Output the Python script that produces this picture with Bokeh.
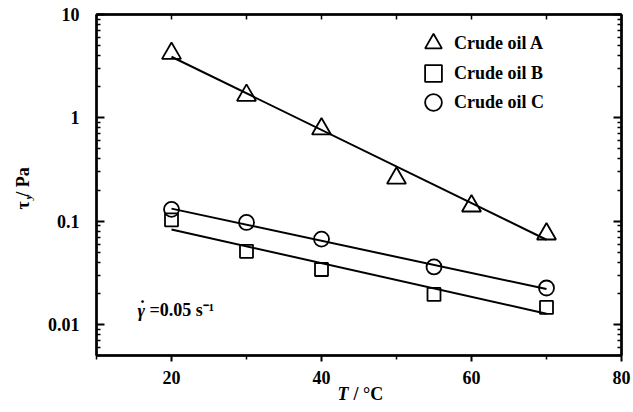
import math
from bokeh.plotting import figure
from bokeh.models import (Range1d, FixedTicker, CustomJSTickFormatter, LinearAxis,
                          LogAxis, Legend, LegendItem, Label)
from bokeh.embed import file_html
from bokeh.resources import INLINE

# ---- data ----
temp_A = [20, 30, 40, 50, 60, 70]
tau_A = [4.2, 1.65, 0.78, 0.26, 0.14, 0.075]
temp_B = [20, 30, 40, 55, 70]
tau_B = [0.103, 0.051, 0.034, 0.0195, 0.0146]
temp_C = [20, 30, 40, 55, 70]
tau_C = [0.13, 0.097, 0.067, 0.036, 0.0225]
fit_T = [20, 70]
fit_A = [3.9, 0.066]
fit_B = [0.083, 0.0127]
fit_C = [0.132, 0.022]
x_ticks = [20, 40, 60, 80]
x_minor = [10, 30, 50, 70]
top_ticks = [20, 30, 40, 50, 60, 70]
y_ticks = [0.01, 0.1, 1, 10]
y_minor = [m * d for d in [0.001, 0.01, 0.1, 1] for m in range(2, 10)]
series_names = ["Crude oil A", "Crude oil B", "Crude oil C"]

X0, X1 = 10, 80
Y0, Y1 = 0.005, 10
W, H = 633, 412
L, R, T, B = 96, 621, 14, 355

FONT = "Liberation Serif"

p = figure(width=W, height=H, x_range=Range1d(X0, X1), y_range=Range1d(Y0, Y1),
           y_axis_type="log", output_backend="svg", toolbar_location=None,
           min_border_left=L, min_border_right=W - R, min_border_top=T,
           min_border_bottom=H - B, background_fill_color="white",
           border_fill_color="white", outline_line_color="black",
           outline_line_width=2)
p.grid.visible = False

# bottom axis
xa = p.xaxis[0]
xa.ticker = FixedTicker(ticks=x_ticks, minor_ticks=x_minor)
xa.axis_line_width = 2.5
xa.major_tick_in = 0
xa.major_tick_out = 6
xa.minor_tick_in = 0
xa.minor_tick_out = 4
xa.major_tick_line_width = 2
xa.minor_tick_line_width = 1.5
xa.major_label_standoff = 9
xa.major_label_text_font = FONT
xa.major_label_text_font_style = "bold"
xa.major_label_text_font_size = "18px"
xa.major_label_text_color = "black"

# left axis
ya = p.yaxis[0]
ya.ticker = FixedTicker(ticks=y_ticks, minor_ticks=y_minor)
ya.formatter = CustomJSTickFormatter(code="return String(tick);")
ya.axis_line_width = 2.5
ya.major_tick_in = 8
ya.major_tick_out = 0
ya.minor_tick_in = 4
ya.minor_tick_out = 0
ya.major_tick_line_width = 2
ya.minor_tick_line_width = 1.5
ya.major_label_standoff = 17
ya.major_label_text_font = FONT
ya.major_label_text_font_style = "bold"
ya.major_label_text_font_size = "18px"
ya.major_label_text_color = "black"

blank = CustomJSTickFormatter(code="return '';")
top = LinearAxis(ticker=FixedTicker(ticks=top_ticks, minor_ticks=[]), formatter=blank,
                 axis_line_width=2.5, major_tick_in=5, major_tick_out=0,
                 major_tick_line_width=1.5, major_label_text_font_size="1px",
                 major_label_standoff=0)
right = LogAxis(ticker=FixedTicker(ticks=y_ticks, minor_ticks=y_minor), formatter=blank,
                axis_line_width=2.5, major_tick_in=8, major_tick_out=0,
                minor_tick_in=4, minor_tick_out=0, major_tick_line_width=2,
                minor_tick_line_width=1.5, major_label_text_font_size="1px",
                major_label_standoff=0)
p.add_layout(top, "above")
p.add_layout(right, "right")

# fit lines
for fy in (fit_A, fit_B, fit_C):
    p.line(fit_T, fy, line_color="black", line_width=2)

# markers
rA = p.scatter(temp_A, tau_A, marker="triangle", size=19, fill_alpha=0,
               line_color="black", line_width=1.8)
rB = p.scatter(temp_B, tau_B, marker="square", size=13, fill_alpha=0,
               line_color="black", line_width=1.8)
rC = p.scatter(temp_C, tau_C, marker="circle", size=15, fill_alpha=0,
               line_color="black", line_width=1.8)

# one legend per row so rows can sit 30 px apart with large glyphs
row_centers = [43, 73, 102]
for name, rend, cy in zip(series_names, [rA, rB, rC], row_centers):
    leg = Legend(items=[LegendItem(label=name, renderers=[rend])],
                 location=(316, B - (cy + 21)), glyph_width=42, glyph_height=42,
                 label_standoff=0, spacing=0, padding=0, margin=0,
                 border_line_alpha=0, background_fill_alpha=0,
                 label_text_font=FONT, label_text_font_style="bold",
                 label_text_font_size="18px", label_text_color="black",
                 label_height=20)
    p.add_layout(leg, "center")


def lab(text, px, py, place="center", **kw):
    opts = dict(text_font=FONT, text_font_style="bold", text_font_size="18px",
                text_color="black", text_align="left", text_baseline="middle",
                x_units="canvas", y_units="canvas")
    opts.update(kw)
    p.add_layout(Label(x=px, y=py, text=text, **opts), place)


# annotation
lab("γ", 137, 310, text_font_style="bold italic")
lab("\u02D9", 139, 306)
lab("=0.05 s\u207B\u00B9", 149, 309)

# x-axis title
lab("T", 337, 393, place="left", text_font_style="bold italic")
lab("/ °C", 353, 393, place="below")

# y-axis title (rotated)
a = math.pi / 2
lab("τ   / Pa", 22, 209, place="left", angle=a)
lab("y", 27, 199, place="left", angle=a, text_font_size="11px", text_font_style="bold italic")

open("out.html", "w").write(file_html(p, INLINE))
